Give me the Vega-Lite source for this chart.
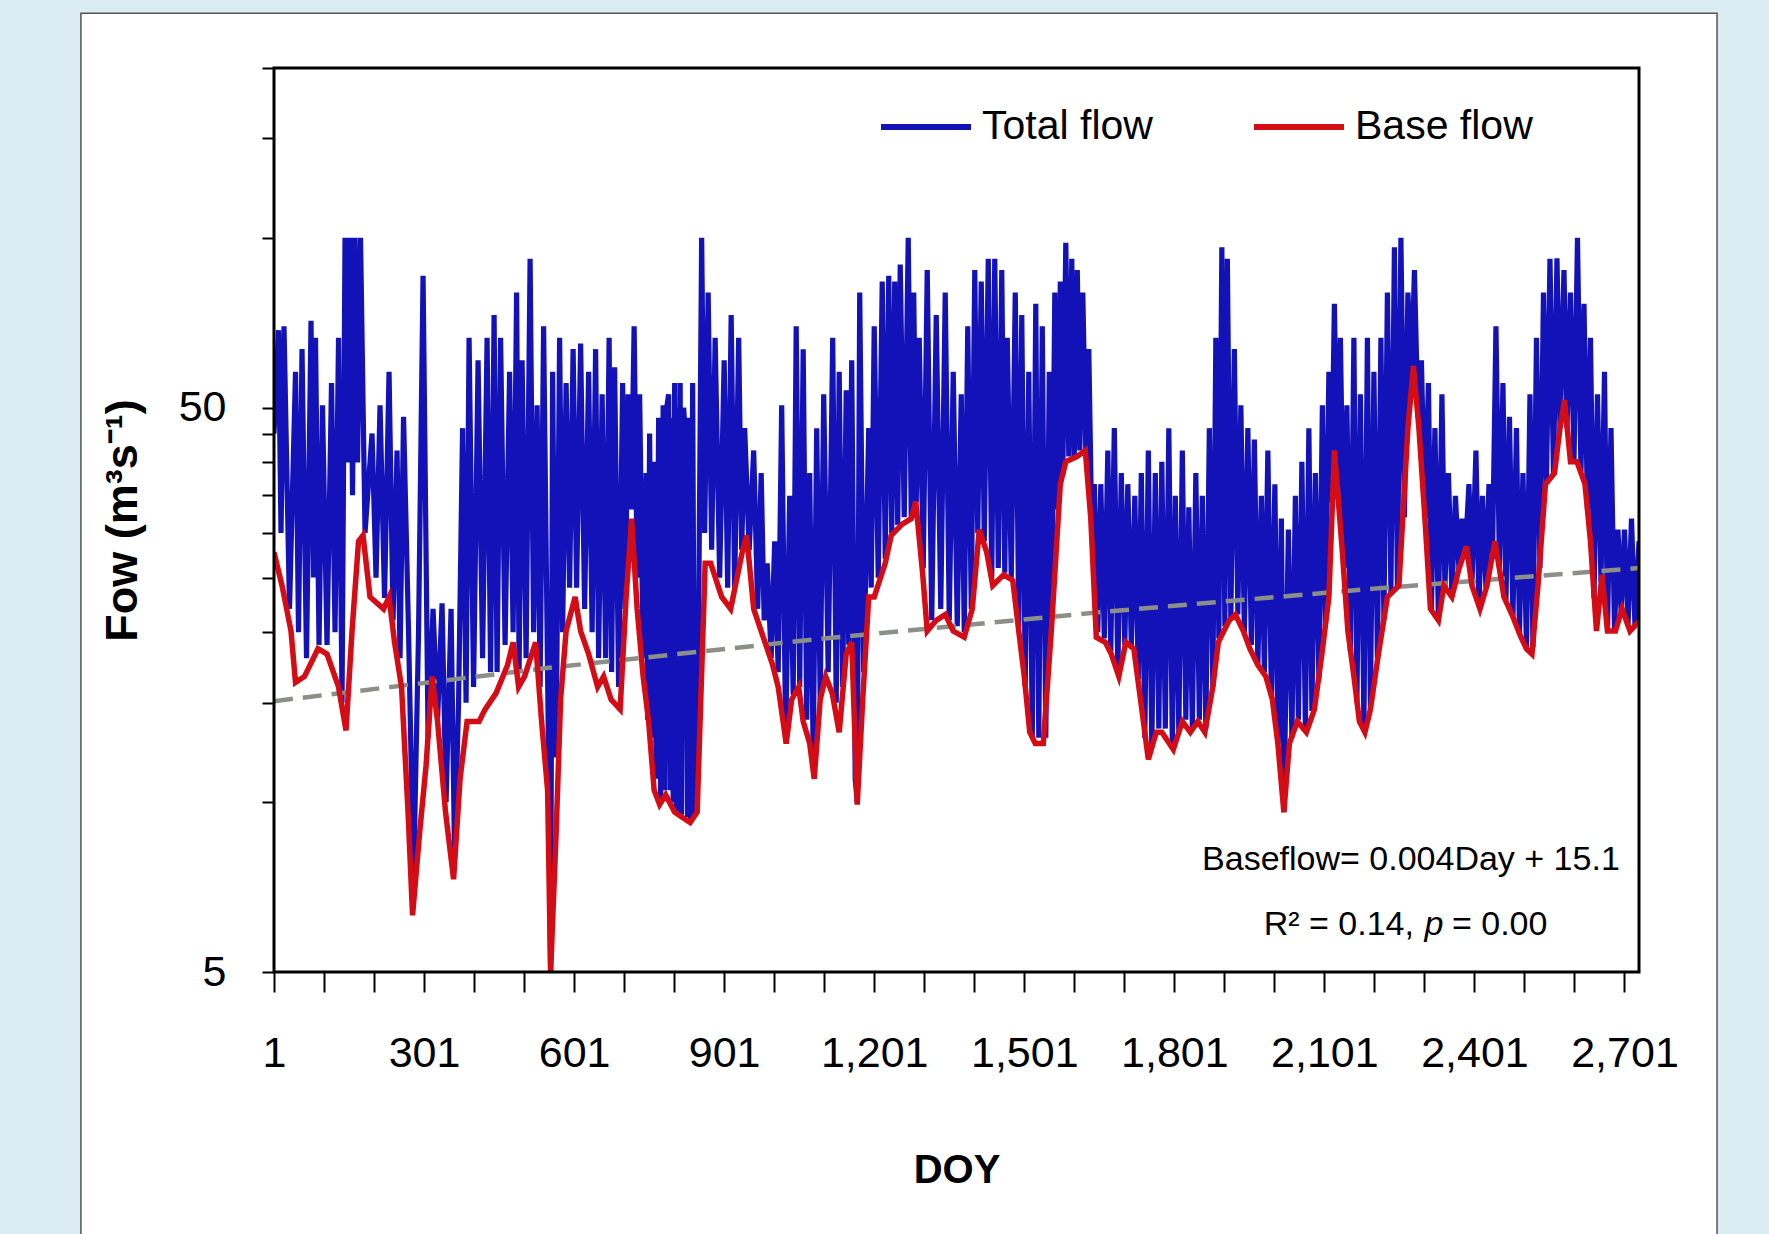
{
 "$schema": "https://vega.github.io/schema/vega-lite/v6.json",
 "width": 1365,
 "height": 904,
 "autosize": {"type": "none"},
 "padding": {"left": 274, "top": 68, "right": 130, "bottom": 262},
 "background": "white",
 "config": {
  "font": "Liberation Sans",
  "view": {"stroke": null},
  "axisX": {"zindex": 2, "tickSize": 20, "tickWidth": 2, "tickColor": "black", "domain": false, "grid": false,
   "labelFontSize": 43, "labelColor": "black", "labelPadding": 40, "labelFlush": false, "labelOverlap": false,
   "titleFontSize": 40, "titleFontWeight": "bold", "titleColor": "black", "titlePadding": 75},
  "axisY": {"zindex": 2, "tickSize": 12, "tickWidth": 2, "tickColor": "black", "domain": false, "grid": false,
   "labelFontSize": 43, "labelColor": "black", "labelPadding": 36, "labelOverlap": false,
   "titleFontSize": 45, "titleFontWeight": "bold", "titleColor": "black", "titlePadding": 33}
 },
 "datasets": {
  "total": [
{"d":1,"v":45,"s":"Total flow"},{"d":10,"v":68.6,"s":"Total flow"},{"d":15,"v":30,"s":"Total flow"},{"d":21,"v":69.7,"s":"Total flow"},{"d":32,"v":22,"s":"Total flow"},{"d":44,"v":57.9,"s":"Total flow"},{"d":50,"v":20,"s":"Total flow"},{"d":57,"v":63.5,"s":"Total flow"},{"d":66,"v":18,"s":"Total flow"},{"d":75,"v":71.3,"s":"Total flow"},{"d":80,"v":25,"s":"Total flow"},{"d":84,"v":66.5,"s":"Total flow"},{"d":91,"v":19,"s":"Total flow"},{"d":98,"v":50.5,"s":"Total flow"},{"d":107,"v":19,"s":"Total flow"},{"d":116,"v":55.3,"s":"Total flow"},{"d":123,"v":20,"s":"Total flow"},{"d":130,"v":66.5,"s":"Total flow"},{"d":137,"v":15,"s":"Total flow"},{"d":143,"v":100,"s":"Total flow"},{"d":148,"v":40,"s":"Total flow"},{"d":153,"v":100,"s":"Total flow"},{"d":158,"v":35,"s":"Total flow"},{"d":163,"v":100,"s":"Total flow"},{"d":168,"v":40,"s":"Total flow"},{"d":174,"v":100,"s":"Total flow"},{"d":183,"v":30,"s":"Total flow"},{"d":197,"v":45,"s":"Total flow"},{"d":205,"v":25,"s":"Total flow"},{"d":213,"v":50.5,"s":"Total flow"},{"d":222,"v":23,"s":"Total flow"},{"d":231,"v":57.9,"s":"Total flow"},{"d":239,"v":21,"s":"Total flow"},{"d":247,"v":42,"s":"Total flow"},{"d":253,"v":18,"s":"Total flow"},{"d":260,"v":48.2,"s":"Total flow"},{"d":270,"v":20,"s":"Total flow"},{"d":280,"v":7.2,"s":"Total flow"},{"d":290,"v":20,"s":"Total flow"},{"d":299,"v":85.7,"s":"Total flow"},{"d":309,"v":13,"s":"Total flow"},{"d":319,"v":22,"s":"Total flow"},{"d":328,"v":14,"s":"Total flow"},{"d":337,"v":22.5,"s":"Total flow"},{"d":345,"v":10,"s":"Total flow"},{"d":355,"v":22,"s":"Total flow"},{"d":362,"v":8,"s":"Total flow"},{"d":370,"v":15,"s":"Total flow"},{"d":378,"v":46,"s":"Total flow"},{"d":385,"v":15,"s":"Total flow"},{"d":391,"v":66.5,"s":"Total flow"},{"d":400,"v":16,"s":"Total flow"},{"d":409,"v":60.7,"s":"Total flow"},{"d":418,"v":18,"s":"Total flow"},{"d":427,"v":66.5,"s":"Total flow"},{"d":434,"v":17,"s":"Total flow"},{"d":441,"v":73,"s":"Total flow"},{"d":447,"v":17,"s":"Total flow"},{"d":454,"v":66.5,"s":"Total flow"},{"d":463,"v":19,"s":"Total flow"},{"d":472,"v":57.9,"s":"Total flow"},{"d":479,"v":20,"s":"Total flow"},{"d":486,"v":80,"s":"Total flow"},{"d":491,"v":17,"s":"Total flow"},{"d":497,"v":60.7,"s":"Total flow"},{"d":505,"v":18,"s":"Total flow"},{"d":513,"v":91.8,"s":"Total flow"},{"d":520,"v":20,"s":"Total flow"},{"d":527,"v":50.5,"s":"Total flow"},{"d":533,"v":16,"s":"Total flow"},{"d":540,"v":69.7,"s":"Total flow"},{"d":549,"v":14,"s":"Total flow"},{"d":554,"v":5,"s":"Total flow"},{"d":558,"v":57.9,"s":"Total flow"},{"d":565,"v":12,"s":"Total flow"},{"d":572,"v":66.5,"s":"Total flow"},{"d":578,"v":20,"s":"Total flow"},{"d":585,"v":55.3,"s":"Total flow"},{"d":592,"v":24,"s":"Total flow"},{"d":599,"v":63.5,"s":"Total flow"},{"d":606,"v":24,"s":"Total flow"},{"d":614,"v":65,"s":"Total flow"},{"d":622,"v":22,"s":"Total flow"},{"d":630,"v":57.9,"s":"Total flow"},{"d":637,"v":20,"s":"Total flow"},{"d":644,"v":63.5,"s":"Total flow"},{"d":650,"v":18,"s":"Total flow"},{"d":657,"v":52.8,"s":"Total flow"},{"d":664,"v":18,"s":"Total flow"},{"d":671,"v":66.5,"s":"Total flow"},{"d":676,"v":17,"s":"Total flow"},{"d":682,"v":59,"s":"Total flow"},{"d":690,"v":16,"s":"Total flow"},{"d":698,"v":55.3,"s":"Total flow"},{"d":703,"v":22,"s":"Total flow"},{"d":709,"v":52.8,"s":"Total flow"},{"d":715,"v":33,"s":"Total flow"},{"d":721,"v":69.7,"s":"Total flow"},{"d":727,"v":25,"s":"Total flow"},{"d":732,"v":52.8,"s":"Total flow"},{"d":739,"v":18,"s":"Total flow"},{"d":745,"v":38.3,"s":"Total flow"},{"d":748,"v":14,"s":"Total flow"},{"d":752,"v":45,"s":"Total flow"},{"d":756,"v":13,"s":"Total flow"},{"d":761,"v":40.1,"s":"Total flow"},{"d":765,"v":11,"s":"Total flow"},{"d":770,"v":48,"s":"Total flow"},{"d":774,"v":10,"s":"Total flow"},{"d":779,"v":50.5,"s":"Total flow"},{"d":782,"v":10.5,"s":"Total flow"},{"d":786,"v":50,"s":"Total flow"},{"d":790,"v":52.8,"s":"Total flow"},{"d":793,"v":10.5,"s":"Total flow"},{"d":796,"v":48,"s":"Total flow"},{"d":799,"v":10,"s":"Total flow"},{"d":802,"v":55.3,"s":"Total flow"},{"d":805,"v":9.6,"s":"Total flow"},{"d":808,"v":50,"s":"Total flow"},{"d":811,"v":9.5,"s":"Total flow"},{"d":813,"v":55.3,"s":"Total flow"},{"d":816,"v":9.5,"s":"Total flow"},{"d":820,"v":50,"s":"Total flow"},{"d":824,"v":43.9,"s":"Total flow"},{"d":828,"v":9.4,"s":"Total flow"},{"d":831,"v":48,"s":"Total flow"},{"d":834,"v":9.3,"s":"Total flow"},{"d":838,"v":55.3,"s":"Total flow"},{"d":842,"v":9.5,"s":"Total flow"},{"d":847,"v":10,"s":"Total flow"},{"d":856,"v":100,"s":"Total flow"},{"d":862,"v":30,"s":"Total flow"},{"d":869,"v":80,"s":"Total flow"},{"d":876,"v":28,"s":"Total flow"},{"d":883,"v":66.5,"s":"Total flow"},{"d":892,"v":25,"s":"Total flow"},{"d":901,"v":60.7,"s":"Total flow"},{"d":908,"v":24,"s":"Total flow"},{"d":915,"v":73,"s":"Total flow"},{"d":922,"v":24,"s":"Total flow"},{"d":930,"v":66.5,"s":"Total flow"},{"d":936,"v":28,"s":"Total flow"},{"d":942,"v":46,"s":"Total flow"},{"d":951,"v":28,"s":"Total flow"},{"d":960,"v":42,"s":"Total flow"},{"d":968,"v":22,"s":"Total flow"},{"d":975,"v":38.3,"s":"Total flow"},{"d":981,"v":21,"s":"Total flow"},{"d":987,"v":26.5,"s":"Total flow"},{"d":995,"v":18,"s":"Total flow"},{"d":1002,"v":29,"s":"Total flow"},{"d":1009,"v":17,"s":"Total flow"},{"d":1016,"v":50.5,"s":"Total flow"},{"d":1024,"v":13,"s":"Total flow"},{"d":1032,"v":34.9,"s":"Total flow"},{"d":1039,"v":15.5,"s":"Total flow"},{"d":1045,"v":69.7,"s":"Total flow"},{"d":1052,"v":16,"s":"Total flow"},{"d":1059,"v":63.5,"s":"Total flow"},{"d":1066,"v":14,"s":"Total flow"},{"d":1072,"v":38.3,"s":"Total flow"},{"d":1079,"v":12,"s":"Total flow"},{"d":1086,"v":46,"s":"Total flow"},{"d":1093,"v":15.2,"s":"Total flow"},{"d":1100,"v":52.8,"s":"Total flow"},{"d":1109,"v":17,"s":"Total flow"},{"d":1118,"v":66.5,"s":"Total flow"},{"d":1125,"v":15,"s":"Total flow"},{"d":1131,"v":57.9,"s":"Total flow"},{"d":1138,"v":16,"s":"Total flow"},{"d":1145,"v":53.7,"s":"Total flow"},{"d":1150,"v":19,"s":"Total flow"},{"d":1156,"v":60.7,"s":"Total flow"},{"d":1163,"v":11,"s":"Total flow"},{"d":1167,"v":10,"s":"Total flow"},{"d":1172,"v":80,"s":"Total flow"},{"d":1180,"v":17,"s":"Total flow"},{"d":1190,"v":46,"s":"Total flow"},{"d":1195,"v":24,"s":"Total flow"},{"d":1201,"v":69.7,"s":"Total flow"},{"d":1209,"v":25,"s":"Total flow"},{"d":1217,"v":83.7,"s":"Total flow"},{"d":1223,"v":27,"s":"Total flow"},{"d":1230,"v":85.7,"s":"Total flow"},{"d":1236,"v":30,"s":"Total flow"},{"d":1242,"v":83.7,"s":"Total flow"},{"d":1248,"v":31,"s":"Total flow"},{"d":1253,"v":89.7,"s":"Total flow"},{"d":1261,"v":32,"s":"Total flow"},{"d":1269,"v":100,"s":"Total flow"},{"d":1275,"v":32,"s":"Total flow"},{"d":1280,"v":80,"s":"Total flow"},{"d":1285,"v":34,"s":"Total flow"},{"d":1291,"v":66.5,"s":"Total flow"},{"d":1299,"v":26,"s":"Total flow"},{"d":1307,"v":87.7,"s":"Total flow"},{"d":1316,"v":21,"s":"Total flow"},{"d":1325,"v":73,"s":"Total flow"},{"d":1334,"v":22,"s":"Total flow"},{"d":1343,"v":80,"s":"Total flow"},{"d":1351,"v":21,"s":"Total flow"},{"d":1359,"v":57.9,"s":"Total flow"},{"d":1367,"v":20.5,"s":"Total flow"},{"d":1375,"v":52.8,"s":"Total flow"},{"d":1381,"v":20,"s":"Total flow"},{"d":1388,"v":69.7,"s":"Total flow"},{"d":1395,"v":22,"s":"Total flow"},{"d":1402,"v":87.7,"s":"Total flow"},{"d":1408,"v":30,"s":"Total flow"},{"d":1415,"v":83.7,"s":"Total flow"},{"d":1421,"v":29,"s":"Total flow"},{"d":1429,"v":91.8,"s":"Total flow"},{"d":1436,"v":25,"s":"Total flow"},{"d":1442,"v":91.8,"s":"Total flow"},{"d":1449,"v":26,"s":"Total flow"},{"d":1456,"v":87.7,"s":"Total flow"},{"d":1462,"v":25.5,"s":"Total flow"},{"d":1467,"v":66.5,"s":"Total flow"},{"d":1475,"v":25,"s":"Total flow"},{"d":1483,"v":80,"s":"Total flow"},{"d":1490,"v":20.5,"s":"Total flow"},{"d":1496,"v":73,"s":"Total flow"},{"d":1503,"v":16,"s":"Total flow"},{"d":1510,"v":57.9,"s":"Total flow"},{"d":1517,"v":13,"s":"Total flow"},{"d":1524,"v":76.4,"s":"Total flow"},{"d":1530,"v":13,"s":"Total flow"},{"d":1537,"v":69.7,"s":"Total flow"},{"d":1544,"v":13,"s":"Total flow"},{"d":1551,"v":57.9,"s":"Total flow"},{"d":1556,"v":21,"s":"Total flow"},{"d":1562,"v":80,"s":"Total flow"},{"d":1568,"v":33,"s":"Total flow"},{"d":1573,"v":83.7,"s":"Total flow"},{"d":1578,"v":38,"s":"Total flow"},{"d":1584,"v":98,"s":"Total flow"},{"d":1590,"v":41,"s":"Total flow"},{"d":1596,"v":91.8,"s":"Total flow"},{"d":1601,"v":41,"s":"Total flow"},{"d":1607,"v":87.7,"s":"Total flow"},{"d":1612,"v":42,"s":"Total flow"},{"d":1618,"v":80,"s":"Total flow"},{"d":1624,"v":42,"s":"Total flow"},{"d":1630,"v":63.5,"s":"Total flow"},{"d":1636,"v":30,"s":"Total flow"},{"d":1641,"v":36.6,"s":"Total flow"},{"d":1648,"v":20,"s":"Total flow"},{"d":1654,"v":36.6,"s":"Total flow"},{"d":1661,"v":19.5,"s":"Total flow"},{"d":1668,"v":42,"s":"Total flow"},{"d":1674,"v":18.5,"s":"Total flow"},{"d":1681,"v":46,"s":"Total flow"},{"d":1688,"v":17,"s":"Total flow"},{"d":1695,"v":38.3,"s":"Total flow"},{"d":1702,"v":19,"s":"Total flow"},{"d":1708,"v":36.6,"s":"Total flow"},{"d":1715,"v":19,"s":"Total flow"},{"d":1722,"v":34.9,"s":"Total flow"},{"d":1729,"v":16.5,"s":"Total flow"},{"d":1735,"v":38.3,"s":"Total flow"},{"d":1742,"v":13,"s":"Total flow"},{"d":1749,"v":42,"s":"Total flow"},{"d":1756,"v":12.5,"s":"Total flow"},{"d":1763,"v":38.3,"s":"Total flow"},{"d":1770,"v":13.5,"s":"Total flow"},{"d":1776,"v":40.1,"s":"Total flow"},{"d":1783,"v":13.5,"s":"Total flow"},{"d":1790,"v":46,"s":"Total flow"},{"d":1797,"v":12.6,"s":"Total flow"},{"d":1803,"v":34.9,"s":"Total flow"},{"d":1810,"v":13.3,"s":"Total flow"},{"d":1817,"v":42,"s":"Total flow"},{"d":1824,"v":14,"s":"Total flow"},{"d":1830,"v":33.3,"s":"Total flow"},{"d":1837,"v":13.5,"s":"Total flow"},{"d":1844,"v":38.3,"s":"Total flow"},{"d":1851,"v":14,"s":"Total flow"},{"d":1857,"v":34.9,"s":"Total flow"},{"d":1864,"v":13.5,"s":"Total flow"},{"d":1871,"v":46,"s":"Total flow"},{"d":1878,"v":16,"s":"Total flow"},{"d":1884,"v":66.5,"s":"Total flow"},{"d":1890,"v":19.5,"s":"Total flow"},{"d":1896,"v":96.2,"s":"Total flow"},{"d":1902,"v":20.5,"s":"Total flow"},{"d":1907,"v":91.8,"s":"Total flow"},{"d":1914,"v":21,"s":"Total flow"},{"d":1921,"v":63.5,"s":"Total flow"},{"d":1928,"v":21.5,"s":"Total flow"},{"d":1934,"v":50.5,"s":"Total flow"},{"d":1941,"v":20,"s":"Total flow"},{"d":1948,"v":46,"s":"Total flow"},{"d":1955,"v":19,"s":"Total flow"},{"d":1961,"v":43.9,"s":"Total flow"},{"d":1968,"v":17.5,"s":"Total flow"},{"d":1975,"v":34.9,"s":"Total flow"},{"d":1981,"v":17,"s":"Total flow"},{"d":1988,"v":42,"s":"Total flow"},{"d":1995,"v":15.5,"s":"Total flow"},{"d":2002,"v":36.6,"s":"Total flow"},{"d":2008,"v":12.7,"s":"Total flow"},{"d":2015,"v":31.8,"s":"Total flow"},{"d":2020,"v":9.6,"s":"Total flow"},{"d":2029,"v":30.4,"s":"Total flow"},{"d":2036,"v":13,"s":"Total flow"},{"d":2043,"v":34.9,"s":"Total flow"},{"d":2049,"v":14,"s":"Total flow"},{"d":2056,"v":40.1,"s":"Total flow"},{"d":2063,"v":13.5,"s":"Total flow"},{"d":2070,"v":46,"s":"Total flow"},{"d":2076,"v":14.5,"s":"Total flow"},{"d":2083,"v":38.3,"s":"Total flow"},{"d":2090,"v":16.5,"s":"Total flow"},{"d":2097,"v":50.5,"s":"Total flow"},{"d":2103,"v":20.5,"s":"Total flow"},{"d":2110,"v":57.9,"s":"Total flow"},{"d":2115,"v":34,"s":"Total flow"},{"d":2121,"v":76.4,"s":"Total flow"},{"d":2127,"v":36,"s":"Total flow"},{"d":2133,"v":66.5,"s":"Total flow"},{"d":2140,"v":26,"s":"Total flow"},{"d":2146,"v":50.5,"s":"Total flow"},{"d":2153,"v":18.5,"s":"Total flow"},{"d":2160,"v":66.5,"s":"Total flow"},{"d":2166,"v":15,"s":"Total flow"},{"d":2173,"v":52.8,"s":"Total flow"},{"d":2180,"v":13.5,"s":"Total flow"},{"d":2187,"v":66.5,"s":"Total flow"},{"d":2193,"v":14.6,"s":"Total flow"},{"d":2200,"v":57.9,"s":"Total flow"},{"d":2207,"v":18,"s":"Total flow"},{"d":2214,"v":66.5,"s":"Total flow"},{"d":2220,"v":21,"s":"Total flow"},{"d":2227,"v":80,"s":"Total flow"},{"d":2234,"v":23.5,"s":"Total flow"},{"d":2241,"v":96.2,"s":"Total flow"},{"d":2247,"v":24,"s":"Total flow"},{"d":2254,"v":100,"s":"Total flow"},{"d":2261,"v":32,"s":"Total flow"},{"d":2268,"v":80,"s":"Total flow"},{"d":2275,"v":55,"s":"Total flow"},{"d":2281,"v":87.7,"s":"Total flow"},{"d":2288,"v":48,"s":"Total flow"},{"d":2295,"v":60.7,"s":"Total flow"},{"d":2302,"v":31.8,"s":"Total flow"},{"d":2309,"v":55.3,"s":"Total flow"},{"d":2315,"v":22,"s":"Total flow"},{"d":2322,"v":46,"s":"Total flow"},{"d":2329,"v":21,"s":"Total flow"},{"d":2336,"v":52.8,"s":"Total flow"},{"d":2342,"v":24,"s":"Total flow"},{"d":2349,"v":38.3,"s":"Total flow"},{"d":2356,"v":23.1,"s":"Total flow"},{"d":2363,"v":34.9,"s":"Total flow"},{"d":2370,"v":25.9,"s":"Total flow"},{"d":2376,"v":31.8,"s":"Total flow"},{"d":2383,"v":28,"s":"Total flow"},{"d":2390,"v":36.6,"s":"Total flow"},{"d":2396,"v":24.2,"s":"Total flow"},{"d":2404,"v":42,"s":"Total flow"},{"d":2410,"v":22.3,"s":"Total flow"},{"d":2417,"v":34.9,"s":"Total flow"},{"d":2424,"v":24,"s":"Total flow"},{"d":2430,"v":36.6,"s":"Total flow"},{"d":2437,"v":27,"s":"Total flow"},{"d":2444,"v":69.7,"s":"Total flow"},{"d":2451,"v":26,"s":"Total flow"},{"d":2458,"v":55.3,"s":"Total flow"},{"d":2464,"v":22.8,"s":"Total flow"},{"d":2471,"v":48.2,"s":"Total flow"},{"d":2478,"v":21.3,"s":"Total flow"},{"d":2485,"v":46,"s":"Total flow"},{"d":2491,"v":19.8,"s":"Total flow"},{"d":2498,"v":38.3,"s":"Total flow"},{"d":2505,"v":18.7,"s":"Total flow"},{"d":2512,"v":52.8,"s":"Total flow"},{"d":2518,"v":18.8,"s":"Total flow"},{"d":2525,"v":66.5,"s":"Total flow"},{"d":2532,"v":26,"s":"Total flow"},{"d":2539,"v":80,"s":"Total flow"},{"d":2545,"v":36.8,"s":"Total flow"},{"d":2552,"v":91.8,"s":"Total flow"},{"d":2559,"v":38,"s":"Total flow"},{"d":2566,"v":92,"s":"Total flow"},{"d":2572,"v":46,"s":"Total flow"},{"d":2580,"v":87.7,"s":"Total flow"},{"d":2586,"v":46,"s":"Total flow"},{"d":2593,"v":80,"s":"Total flow"},{"d":2600,"v":40,"s":"Total flow"},{"d":2607,"v":100,"s":"Total flow"},{"d":2614,"v":38.5,"s":"Total flow"},{"d":2620,"v":76.4,"s":"Total flow"},{"d":2627,"v":33,"s":"Total flow"},{"d":2633,"v":66.5,"s":"Total flow"},{"d":2640,"v":23,"s":"Total flow"},{"d":2647,"v":52.8,"s":"Total flow"},{"d":2654,"v":24.5,"s":"Total flow"},{"d":2661,"v":57.9,"s":"Total flow"},{"d":2667,"v":20.1,"s":"Total flow"},{"d":2674,"v":46,"s":"Total flow"},{"d":2681,"v":20.1,"s":"Total flow"},{"d":2688,"v":30.4,"s":"Total flow"},{"d":2694,"v":21.8,"s":"Total flow"},{"d":2701,"v":30.4,"s":"Total flow"},{"d":2708,"v":20.5,"s":"Total flow"},{"d":2715,"v":31.8,"s":"Total flow"},{"d":2722,"v":20.5,"s":"Total flow"},{"d":2730,"v":29,"s":"Total flow"}
  ],
  "base": [
{"d":1,"v":27.7,"s":"Base flow"},{"d":17,"v":24.2,"s":"Base flow"},{"d":35,"v":20.1,"s":"Base flow"},{"d":44,"v":16.3,"s":"Base flow"},{"d":62,"v":16.7,"s":"Base flow"},{"d":89,"v":18.7,"s":"Base flow"},{"d":107,"v":18.3,"s":"Base flow"},{"d":130,"v":16,"s":"Base flow"},{"d":145,"v":13.4,"s":"Base flow"},{"d":157,"v":20.1,"s":"Base flow"},{"d":170,"v":29,"s":"Base flow"},{"d":179,"v":29.7,"s":"Base flow"},{"d":193,"v":23.1,"s":"Base flow"},{"d":220,"v":22,"s":"Base flow"},{"d":231,"v":23.1,"s":"Base flow"},{"d":242,"v":19.2,"s":"Base flow"},{"d":256,"v":16,"s":"Base flow"},{"d":269,"v":9.6,"s":"Base flow"},{"d":278,"v":6.3,"s":"Base flow"},{"d":292,"v":8.8,"s":"Base flow"},{"d":305,"v":11.6,"s":"Base flow"},{"d":317,"v":16.7,"s":"Base flow"},{"d":328,"v":13.9,"s":"Base flow"},{"d":344,"v":9.6,"s":"Base flow"},{"d":360,"v":7.3,"s":"Base flow"},{"d":373,"v":11,"s":"Base flow"},{"d":387,"v":13.9,"s":"Base flow"},{"d":411,"v":13.9,"s":"Base flow"},{"d":423,"v":14.6,"s":"Base flow"},{"d":445,"v":15.6,"s":"Base flow"},{"d":468,"v":17.5,"s":"Base flow"},{"d":479,"v":19.2,"s":"Base flow"},{"d":490,"v":16,"s":"Base flow"},{"d":502,"v":16.7,"s":"Base flow"},{"d":524,"v":19.2,"s":"Base flow"},{"d":536,"v":13.9,"s":"Base flow"},{"d":548,"v":10.5,"s":"Base flow"},{"d":554,"v":5,"s":"Base flow"},{"d":565,"v":8.8,"s":"Base flow"},{"d":574,"v":15.2,"s":"Base flow"},{"d":585,"v":20.1,"s":"Base flow"},{"d":603,"v":23.1,"s":"Base flow"},{"d":614,"v":20.1,"s":"Base flow"},{"d":630,"v":18.3,"s":"Base flow"},{"d":648,"v":16,"s":"Base flow"},{"d":660,"v":16.7,"s":"Base flow"},{"d":675,"v":15.2,"s":"Base flow"},{"d":693,"v":14.6,"s":"Base flow"},{"d":705,"v":23.1,"s":"Base flow"},{"d":716,"v":31.8,"s":"Base flow"},{"d":727,"v":22,"s":"Base flow"},{"d":739,"v":16.7,"s":"Base flow"},{"d":750,"v":13.9,"s":"Base flow"},{"d":761,"v":10.5,"s":"Base flow"},{"d":772,"v":9.9,"s":"Base flow"},{"d":784,"v":10.3,"s":"Base flow"},{"d":802,"v":9.6,"s":"Base flow"},{"d":817,"v":9.4,"s":"Base flow"},{"d":833,"v":9.2,"s":"Base flow"},{"d":847,"v":9.6,"s":"Base flow"},{"d":863,"v":26.5,"s":"Base flow"},{"d":874,"v":26.5,"s":"Base flow"},{"d":896,"v":23.1,"s":"Base flow"},{"d":914,"v":22,"s":"Base flow"},{"d":937,"v":27.7,"s":"Base flow"},{"d":946,"v":29.7,"s":"Base flow"},{"d":960,"v":22,"s":"Base flow"},{"d":975,"v":20.1,"s":"Base flow"},{"d":998,"v":17.5,"s":"Base flow"},{"d":1009,"v":16,"s":"Base flow"},{"d":1025,"v":12.7,"s":"Base flow"},{"d":1036,"v":15.2,"s":"Base flow"},{"d":1050,"v":16,"s":"Base flow"},{"d":1059,"v":13.9,"s":"Base flow"},{"d":1072,"v":12.7,"s":"Base flow"},{"d":1081,"v":11,"s":"Base flow"},{"d":1093,"v":15.2,"s":"Base flow"},{"d":1104,"v":16.7,"s":"Base flow"},{"d":1117,"v":15.6,"s":"Base flow"},{"d":1131,"v":13.3,"s":"Base flow"},{"d":1145,"v":18.3,"s":"Base flow"},{"d":1156,"v":19.2,"s":"Base flow"},{"d":1167,"v":9.9,"s":"Base flow"},{"d":1178,"v":15.2,"s":"Base flow"},{"d":1190,"v":23.1,"s":"Base flow"},{"d":1201,"v":23.1,"s":"Base flow"},{"d":1223,"v":26.5,"s":"Base flow"},{"d":1235,"v":29.7,"s":"Base flow"},{"d":1257,"v":31.1,"s":"Base flow"},{"d":1275,"v":31.8,"s":"Base flow"},{"d":1284,"v":34.1,"s":"Base flow"},{"d":1298,"v":25.3,"s":"Base flow"},{"d":1307,"v":20.1,"s":"Base flow"},{"d":1325,"v":21,"s":"Base flow"},{"d":1343,"v":21.5,"s":"Base flow"},{"d":1359,"v":20.1,"s":"Base flow"},{"d":1381,"v":19.6,"s":"Base flow"},{"d":1397,"v":22,"s":"Base flow"},{"d":1411,"v":30.4,"s":"Base flow"},{"d":1426,"v":27.7,"s":"Base flow"},{"d":1438,"v":24.2,"s":"Base flow"},{"d":1460,"v":25.3,"s":"Base flow"},{"d":1478,"v":24.7,"s":"Base flow"},{"d":1490,"v":20.1,"s":"Base flow"},{"d":1501,"v":16.7,"s":"Base flow"},{"d":1512,"v":13.3,"s":"Base flow"},{"d":1523,"v":12.7,"s":"Base flow"},{"d":1539,"v":12.7,"s":"Base flow"},{"d":1555,"v":20.1,"s":"Base flow"},{"d":1573,"v":36.6,"s":"Base flow"},{"d":1584,"v":40.1,"s":"Base flow"},{"d":1607,"v":41,"s":"Base flow"},{"d":1623,"v":42,"s":"Base flow"},{"d":1634,"v":31.8,"s":"Base flow"},{"d":1645,"v":19.6,"s":"Base flow"},{"d":1663,"v":19.2,"s":"Base flow"},{"d":1675,"v":18.3,"s":"Base flow"},{"d":1690,"v":16.7,"s":"Base flow"},{"d":1704,"v":19.2,"s":"Base flow"},{"d":1720,"v":18.7,"s":"Base flow"},{"d":1736,"v":14.6,"s":"Base flow"},{"d":1749,"v":11.9,"s":"Base flow"},{"d":1765,"v":13.3,"s":"Base flow"},{"d":1776,"v":13.3,"s":"Base flow"},{"d":1799,"v":12.4,"s":"Base flow"},{"d":1817,"v":13.9,"s":"Base flow"},{"d":1833,"v":13.3,"s":"Base flow"},{"d":1848,"v":13.9,"s":"Base flow"},{"d":1862,"v":13.3,"s":"Base flow"},{"d":1878,"v":16,"s":"Base flow"},{"d":1889,"v":19.2,"s":"Base flow"},{"d":1900,"v":20.1,"s":"Base flow"},{"d":1911,"v":21,"s":"Base flow"},{"d":1923,"v":21.5,"s":"Base flow"},{"d":1939,"v":20.1,"s":"Base flow"},{"d":1952,"v":18.7,"s":"Base flow"},{"d":1968,"v":17.5,"s":"Base flow"},{"d":1984,"v":16.7,"s":"Base flow"},{"d":1997,"v":15.2,"s":"Base flow"},{"d":2008,"v":12.7,"s":"Base flow"},{"d":2020,"v":9.6,"s":"Base flow"},{"d":2031,"v":12.7,"s":"Base flow"},{"d":2047,"v":13.9,"s":"Base flow"},{"d":2065,"v":13.3,"s":"Base flow"},{"d":2081,"v":14.6,"s":"Base flow"},{"d":2096,"v":18.3,"s":"Base flow"},{"d":2110,"v":23.1,"s":"Base flow"},{"d":2121,"v":42,"s":"Base flow"},{"d":2137,"v":27.7,"s":"Base flow"},{"d":2148,"v":20.1,"s":"Base flow"},{"d":2160,"v":16.7,"s":"Base flow"},{"d":2171,"v":13.9,"s":"Base flow"},{"d":2182,"v":13.3,"s":"Base flow"},{"d":2193,"v":14.6,"s":"Base flow"},{"d":2209,"v":18.3,"s":"Base flow"},{"d":2227,"v":23.1,"s":"Base flow"},{"d":2250,"v":24.2,"s":"Base flow"},{"d":2268,"v":46,"s":"Base flow"},{"d":2279,"v":59.3,"s":"Base flow"},{"d":2290,"v":46,"s":"Base flow"},{"d":2302,"v":31.8,"s":"Base flow"},{"d":2313,"v":22,"s":"Base flow"},{"d":2329,"v":21,"s":"Base flow"},{"d":2340,"v":24.2,"s":"Base flow"},{"d":2356,"v":23.1,"s":"Base flow"},{"d":2370,"v":25.9,"s":"Base flow"},{"d":2385,"v":28.4,"s":"Base flow"},{"d":2396,"v":24.2,"s":"Base flow"},{"d":2412,"v":22,"s":"Base flow"},{"d":2426,"v":24.2,"s":"Base flow"},{"d":2442,"v":29,"s":"Base flow"},{"d":2460,"v":23.1,"s":"Base flow"},{"d":2476,"v":21.5,"s":"Base flow"},{"d":2494,"v":19.6,"s":"Base flow"},{"d":2505,"v":18.7,"s":"Base flow"},{"d":2516,"v":18.3,"s":"Base flow"},{"d":2528,"v":24.2,"s":"Base flow"},{"d":2543,"v":36.6,"s":"Base flow"},{"d":2561,"v":38.3,"s":"Base flow"},{"d":2572,"v":46,"s":"Base flow"},{"d":2581,"v":51.6,"s":"Base flow"},{"d":2593,"v":40.1,"s":"Base flow"},{"d":2606,"v":40.1,"s":"Base flow"},{"d":2622,"v":36.6,"s":"Base flow"},{"d":2633,"v":29,"s":"Base flow"},{"d":2645,"v":20.1,"s":"Base flow"},{"d":2656,"v":25.3,"s":"Base flow"},{"d":2667,"v":20.1,"s":"Base flow"},{"d":2683,"v":20.1,"s":"Base flow"},{"d":2696,"v":22,"s":"Base flow"},{"d":2712,"v":20.1,"s":"Base flow"},{"d":2730,"v":20.9,"s":"Base flow"}
  ],
  "trend": [
{"d":1,"v":15.1},{"d":550,"v":17.3},{"d":1100,"v":19.5},{"d":1650,"v":21.7},{"d":2200,"v":23.9},{"d":2730,"v":26.0}
  ]
 },
 "layer": [
  {
   "data": {"values": [{}]},
   "mark": {"type": "rect", "fill": "#dbecf2", "clip": false},
   "encoding": {
    "x": {"datum": -3000, "type": "quantitative", "scale": {"domain": [1, 2730], "nice": false, "zero": false},
     "axis": {"title": "DOY", "values": [1,101,201,301,401,501,601,701,801,901,1001,1101,1201,1301,1401,1501,1601,1701,1801,1901,2001,2101,2201,2301,2401,2501,2601,2701], "labelExpr": "(datum.value - 1) % 300 === 0 ? format(datum.value, ',') : ''"}},
    "x2": {"datum": -385},
    "y": {"datum": 1000, "type": "quantitative", "scale": {"type": "log", "domain": [5, 200], "nice": false},
     "axis": {"title": "Fow (m³s⁻¹)", "values": [5,10,15,20,25,30,35,40,45,50,100,150,200], "labelExpr": "datum.value === 5 || datum.value === 50 ? format(datum.value, 'd') : ''"}},
    "y2": {"datum": 0.5}
   }
  },
  {
   "data": {"values": [{}]},
   "mark": {"type": "rect", "fill": "#dbecf2", "clip": false},
   "encoding": {
    "x": {"datum": 2886, "type": "quantitative",
     "axis": {"title": "DOY", "values": [1,101,201,301,401,501,601,701,801,901,1001,1101,1201,1301,1401,1501,1601,1701,1801,1901,2001,2101,2201,2301,2401,2501,2601,2701], "labelExpr": "(datum.value - 1) % 300 === 0 ? format(datum.value, ',') : ''"}},
    "x2": {"datum": 6000},
    "y": {"datum": 1000, "type": "quantitative",
     "axis": {"title": "Fow (m³s⁻¹)", "values": [5,10,15,20,25,30,35,40,45,50,100,150,200], "labelExpr": "datum.value === 5 || datum.value === 50 ? format(datum.value, 'd') : ''"}},
    "y2": {"datum": 0.5}
   }
  },
  {
   "data": {"values": [{}]},
   "mark": {"type": "rect", "fill": "#dbecf2", "clip": false},
   "encoding": {
    "x": {"datum": -3000, "type": "quantitative",
     "axis": {"title": "DOY", "values": [1,101,201,301,401,501,601,701,801,901,1001,1101,1201,1301,1401,1501,1601,1701,1801,1901,2001,2101,2201,2301,2401,2501,2601,2701], "labelExpr": "(datum.value - 1) % 300 === 0 ? format(datum.value, ',') : ''"}},
    "x2": {"datum": 6000},
    "y": {"datum": 1000, "type": "quantitative",
     "axis": {"title": "Fow (m³s⁻¹)", "values": [5,10,15,20,25,30,35,40,45,50,100,150,200], "labelExpr": "datum.value === 5 || datum.value === 50 ? format(datum.value, 'd') : ''"}},
    "y2": {"datum": 250}
   }
  },
  {
   "data": {"values": [{}]},
   "mark": {"type": "rect", "fillOpacity": 0, "stroke": "#555555", "strokeWidth": 1.5, "clip": false},
   "encoding": {
    "x": {"datum": -385, "type": "quantitative",
     "axis": {"title": "DOY", "values": [1,101,201,301,401,501,601,701,801,901,1001,1101,1201,1301,1401,1501,1601,1701,1801,1901,2001,2101,2201,2301,2401,2501,2601,2701], "labelExpr": "(datum.value - 1) % 300 === 0 ? format(datum.value, ',') : ''"}},
    "x2": {"datum": 2886},
    "y": {"datum": 250, "type": "quantitative",
     "axis": {"title": "Fow (m³s⁻¹)", "values": [5,10,15,20,25,30,35,40,45,50,100,150,200], "labelExpr": "datum.value === 5 || datum.value === 50 ? format(datum.value, 'd') : ''"}},
    "y2": {"datum": 1.5}
   }
  },
  {
   "data": {"name": "total"},
   "mark": {"type": "line", "strokeWidth": 5.2, "clip": true},
   "encoding": {
    "x": {"field": "d", "type": "quantitative",
     "axis": {"title": "DOY", "values": [1,101,201,301,401,501,601,701,801,901,1001,1101,1201,1301,1401,1501,1601,1701,1801,1901,2001,2101,2201,2301,2401,2501,2601,2701], "labelExpr": "(datum.value - 1) % 300 === 0 ? format(datum.value, ',') : ''"}},
    "y": {"field": "v", "type": "quantitative",
     "axis": {"title": "Fow (m³s⁻¹)", "values": [5,10,15,20,25,30,35,40,45,50,100,150,200], "labelExpr": "datum.value === 5 || datum.value === 50 ? format(datum.value, 'd') : ''"}},
    "color": {"field": "s", "type": "nominal",
     "scale": {"domain": ["Total flow", "Base flow"], "range": ["#1212b8", "#d40c16"]},
     "legend": {"orient": "none", "legendX": 604, "legendY": 11, "direction": "horizontal", "title": null,
      "symbolType": "stroke", "symbolStrokeWidth": 6, "symbolSize": 8100, "labelFontSize": 41, "labelColor": "black", "labelLimit": 400,
      "columnPadding": 89, "labelOffset": 8, "padding": 0}}
   }
  },
  {
   "data": {"name": "trend"},
   "mark": {"type": "line", "color": "#8c8f88", "strokeWidth": 4.5, "strokeDash": [19, 10]},
   "encoding": {
    "x": {"field": "d", "type": "quantitative",
     "axis": {"title": "DOY", "values": [1,101,201,301,401,501,601,701,801,901,1001,1101,1201,1301,1401,1501,1601,1701,1801,1901,2001,2101,2201,2301,2401,2501,2601,2701], "labelExpr": "(datum.value - 1) % 300 === 0 ? format(datum.value, ',') : ''"}},
    "y": {"field": "v", "type": "quantitative",
     "axis": {"title": "Fow (m³s⁻¹)", "values": [5,10,15,20,25,30,35,40,45,50,100,150,200], "labelExpr": "datum.value === 5 || datum.value === 50 ? format(datum.value, 'd') : ''"}}
   }
  },
  {
   "data": {"name": "base"},
   "mark": {"type": "line", "strokeWidth": 5.5, "clip": true},
   "encoding": {
    "x": {"field": "d", "type": "quantitative",
     "axis": {"title": "DOY", "values": [1,101,201,301,401,501,601,701,801,901,1001,1101,1201,1301,1401,1501,1601,1701,1801,1901,2001,2101,2201,2301,2401,2501,2601,2701], "labelExpr": "(datum.value - 1) % 300 === 0 ? format(datum.value, ',') : ''"}},
    "y": {"field": "v", "type": "quantitative",
     "axis": {"title": "Fow (m³s⁻¹)", "values": [5,10,15,20,25,30,35,40,45,50,100,150,200], "labelExpr": "datum.value === 5 || datum.value === 50 ? format(datum.value, 'd') : ''"}},
    "color": {"field": "s", "type": "nominal"}
   }
  },
  {
   "data": {"values": [{}]},
   "mark": {"type": "rect", "fillOpacity": 0, "stroke": "black", "strokeWidth": 3},
   "encoding": {
    "x": {"datum": 1, "type": "quantitative",
     "axis": {"title": "DOY", "values": [1,101,201,301,401,501,601,701,801,901,1001,1101,1201,1301,1401,1501,1601,1701,1801,1901,2001,2101,2201,2301,2401,2501,2601,2701], "labelExpr": "(datum.value - 1) % 300 === 0 ? format(datum.value, ',') : ''"}},
    "x2": {"datum": 2730},
    "y": {"datum": 5, "type": "quantitative",
     "axis": {"title": "Fow (m³s⁻¹)", "values": [5,10,15,20,25,30,35,40,45,50,100,150,200], "labelExpr": "datum.value === 5 || datum.value === 50 ? format(datum.value, 'd') : ''"}},
    "y2": {"datum": 200}
   }
  },
  {
   "data": {"values": [{}]},
   "mark": {"type": "text", "text": "Baseflow= 0.004Day + 15.1", "align": "center", "baseline": "alphabetic", "fontSize": 34, "color": "black"},
   "encoding": {
    "x": {"datum": 2274, "type": "quantitative",
     "axis": {"title": "DOY", "values": [1,101,201,301,401,501,601,701,801,901,1001,1101,1201,1301,1401,1501,1601,1701,1801,1901,2001,2101,2201,2301,2401,2501,2601,2701], "labelExpr": "(datum.value - 1) % 300 === 0 ? format(datum.value, ',') : ''"}},
    "y": {"datum": 7.58, "type": "quantitative",
     "axis": {"title": "Fow (m³s⁻¹)", "values": [5,10,15,20,25,30,35,40,45,50,100,150,200], "labelExpr": "datum.value === 5 || datum.value === 50 ? format(datum.value, 'd') : ''"}}
   }
  },
  {
   "data": {"values": [{}]},
   "mark": {"type": "text", "text": "R² = 0.14,", "align": "right", "baseline": "alphabetic", "fontSize": 34, "color": "black", "dx": -20},
   "encoding": {
    "x": {"datum": 2320, "type": "quantitative",
     "axis": {"title": "DOY", "values": [1,101,201,301,401,501,601,701,801,901,1001,1101,1201,1301,1401,1501,1601,1701,1801,1901,2001,2101,2201,2301,2401,2501,2601,2701], "labelExpr": "(datum.value - 1) % 300 === 0 ? format(datum.value, ',') : ''"}},
    "y": {"datum": 5.81, "type": "quantitative",
     "axis": {"title": "Fow (m³s⁻¹)", "values": [5,10,15,20,25,30,35,40,45,50,100,150,200], "labelExpr": "datum.value === 5 || datum.value === 50 ? format(datum.value, 'd') : ''"}}
   }
  },
  {
   "data": {"values": [{}]},
   "mark": {"type": "text", "text": "p", "align": "center", "baseline": "alphabetic", "fontSize": 34, "fontStyle": "italic", "color": "black"},
   "encoding": {
    "x": {"datum": 2320, "type": "quantitative",
     "axis": {"title": "DOY", "values": [1,101,201,301,401,501,601,701,801,901,1001,1101,1201,1301,1401,1501,1601,1701,1801,1901,2001,2101,2201,2301,2401,2501,2601,2701], "labelExpr": "(datum.value - 1) % 300 === 0 ? format(datum.value, ',') : ''"}},
    "y": {"datum": 5.81, "type": "quantitative",
     "axis": {"title": "Fow (m³s⁻¹)", "values": [5,10,15,20,25,30,35,40,45,50,100,150,200], "labelExpr": "datum.value === 5 || datum.value === 50 ? format(datum.value, 'd') : ''"}}
   }
  },
  {
   "data": {"values": [{}]},
   "mark": {"type": "text", "text": "= 0.00", "align": "left", "baseline": "alphabetic", "fontSize": 34, "color": "black", "dx": 18},
   "encoding": {
    "x": {"datum": 2320, "type": "quantitative",
     "axis": {"title": "DOY", "values": [1,101,201,301,401,501,601,701,801,901,1001,1101,1201,1301,1401,1501,1601,1701,1801,1901,2001,2101,2201,2301,2401,2501,2601,2701], "labelExpr": "(datum.value - 1) % 300 === 0 ? format(datum.value, ',') : ''"}},
    "y": {"datum": 5.81, "type": "quantitative",
     "axis": {"title": "Fow (m³s⁻¹)", "values": [5,10,15,20,25,30,35,40,45,50,100,150,200], "labelExpr": "datum.value === 5 || datum.value === 50 ? format(datum.value, 'd') : ''"}}
   }
  }
 ]
}
